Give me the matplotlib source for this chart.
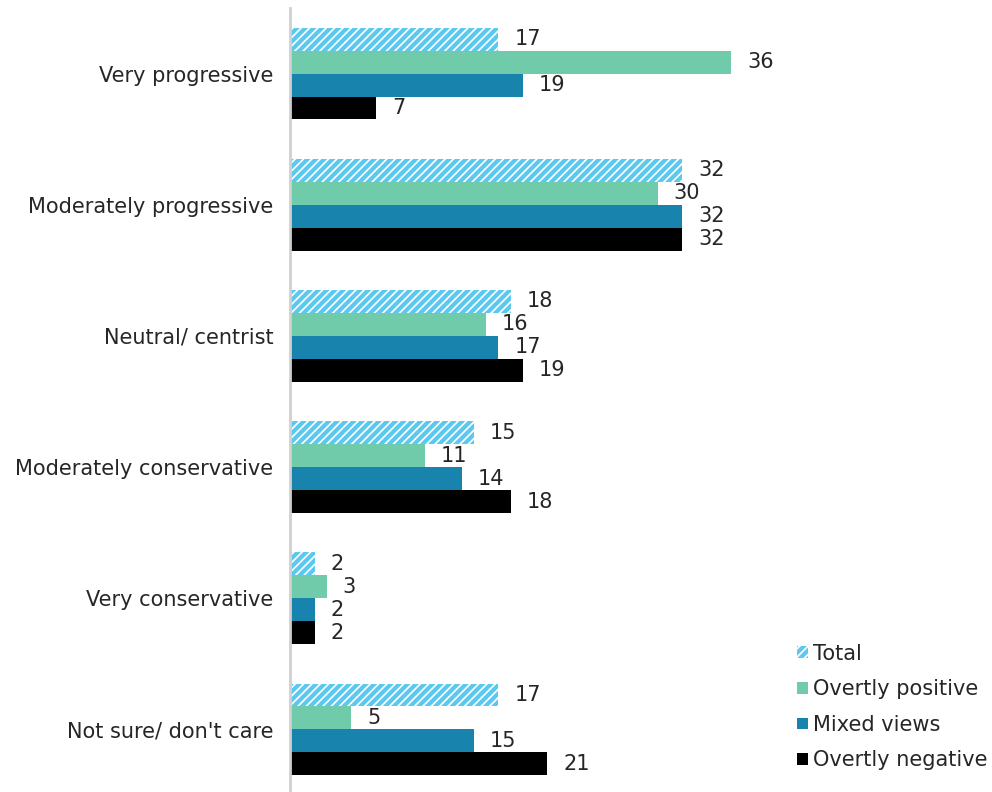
import matplotlib
matplotlib.use("Agg")
import matplotlib.pyplot as plt
import numpy as np
from matplotlib.patches import Patch

plt.rcParams['font.family'] = ['DejaVu Sans']
plt.rcParams['hatch.linewidth'] = 3.0

categories = ["Very progressive", "Moderately progressive", "Neutral/ centrist",
              "Moderately conservative", "Very conservative", "Not sure/ don't care"]
series_names = ["Total", "Overtly positive", "Mixed views", "Overtly negative"]
total = [17, 32, 18, 15, 2, 17]
overtly_positive = [36, 30, 16, 11, 3, 5]
mixed_views = [19, 32, 17, 14, 2, 15]
overtly_negative = [7, 32, 19, 18, 2, 21]

series = [total, overtly_positive, mixed_views, overtly_negative]
colors = ["#5BC8F0", "#6FCBA9", "#1884AD", "#000000"]
FS = 15
TXT = "#262626"

fig = plt.figure(figsize=(9.92, 7.92), dpi=100)
ax = fig.add_axes([290 / 992, -3 / 792, 500 / 992, 787 / 792])

n = len(categories)
y = np.arange(n)
h = 0.175
offsets = np.array([-1.5, -0.5, 0.5, 1.5]) * h

for i, (vals, col) in enumerate(zip(series, colors)):
    ypos = y + offsets[i]
    if i == 0:
        bars = ax.barh(ypos, vals, height=h, color="white", edgecolor=col,
                       hatch="////", linewidth=0)
    else:
        bars = ax.barh(ypos, vals, height=h, color=col, linewidth=0)
    for b, v in zip(bars, vals):
        ax.annotate(str(v), (v, b.get_y() + b.get_height() / 2),
                    xytext=(16, 0), textcoords="offset pixels",
                    va="center", ha="left", fontsize=FS, color=TXT)

ax.set_ylim(n - 0.5, -0.5)
ax.set_xlim(0, 500 / 12.25)
ax.set_yticks(y)
ax.set_yticklabels(categories, fontsize=FS, color=TXT)
ax.tick_params(axis="y", length=0, pad=12)
ax.set_xticks([])
for s in ["top", "right", "bottom"]:
    ax.spines[s].set_visible(False)
ax.spines["left"].set_color("#D0D0D0")
ax.spines["left"].set_linewidth(2)

handles = [Patch(facecolor="white", edgecolor=colors[0], hatch="////", linewidth=0)] + \
          [Patch(facecolor=c, linewidth=0) for c in colors[1:]]
leg = fig.legend(handles, series_names, loc="lower right",
                 bbox_to_anchor=(1.0 + 6 / 992, 0.014), frameon=False, fontsize=FS,
                 handlelength=0.5, handleheight=0.5, handletextpad=0.25,
                 labelspacing=0.75, borderaxespad=0.1)
for t in leg.get_texts():
    t.set_color(TXT)

fig.savefig("out.png", dpi=100)
